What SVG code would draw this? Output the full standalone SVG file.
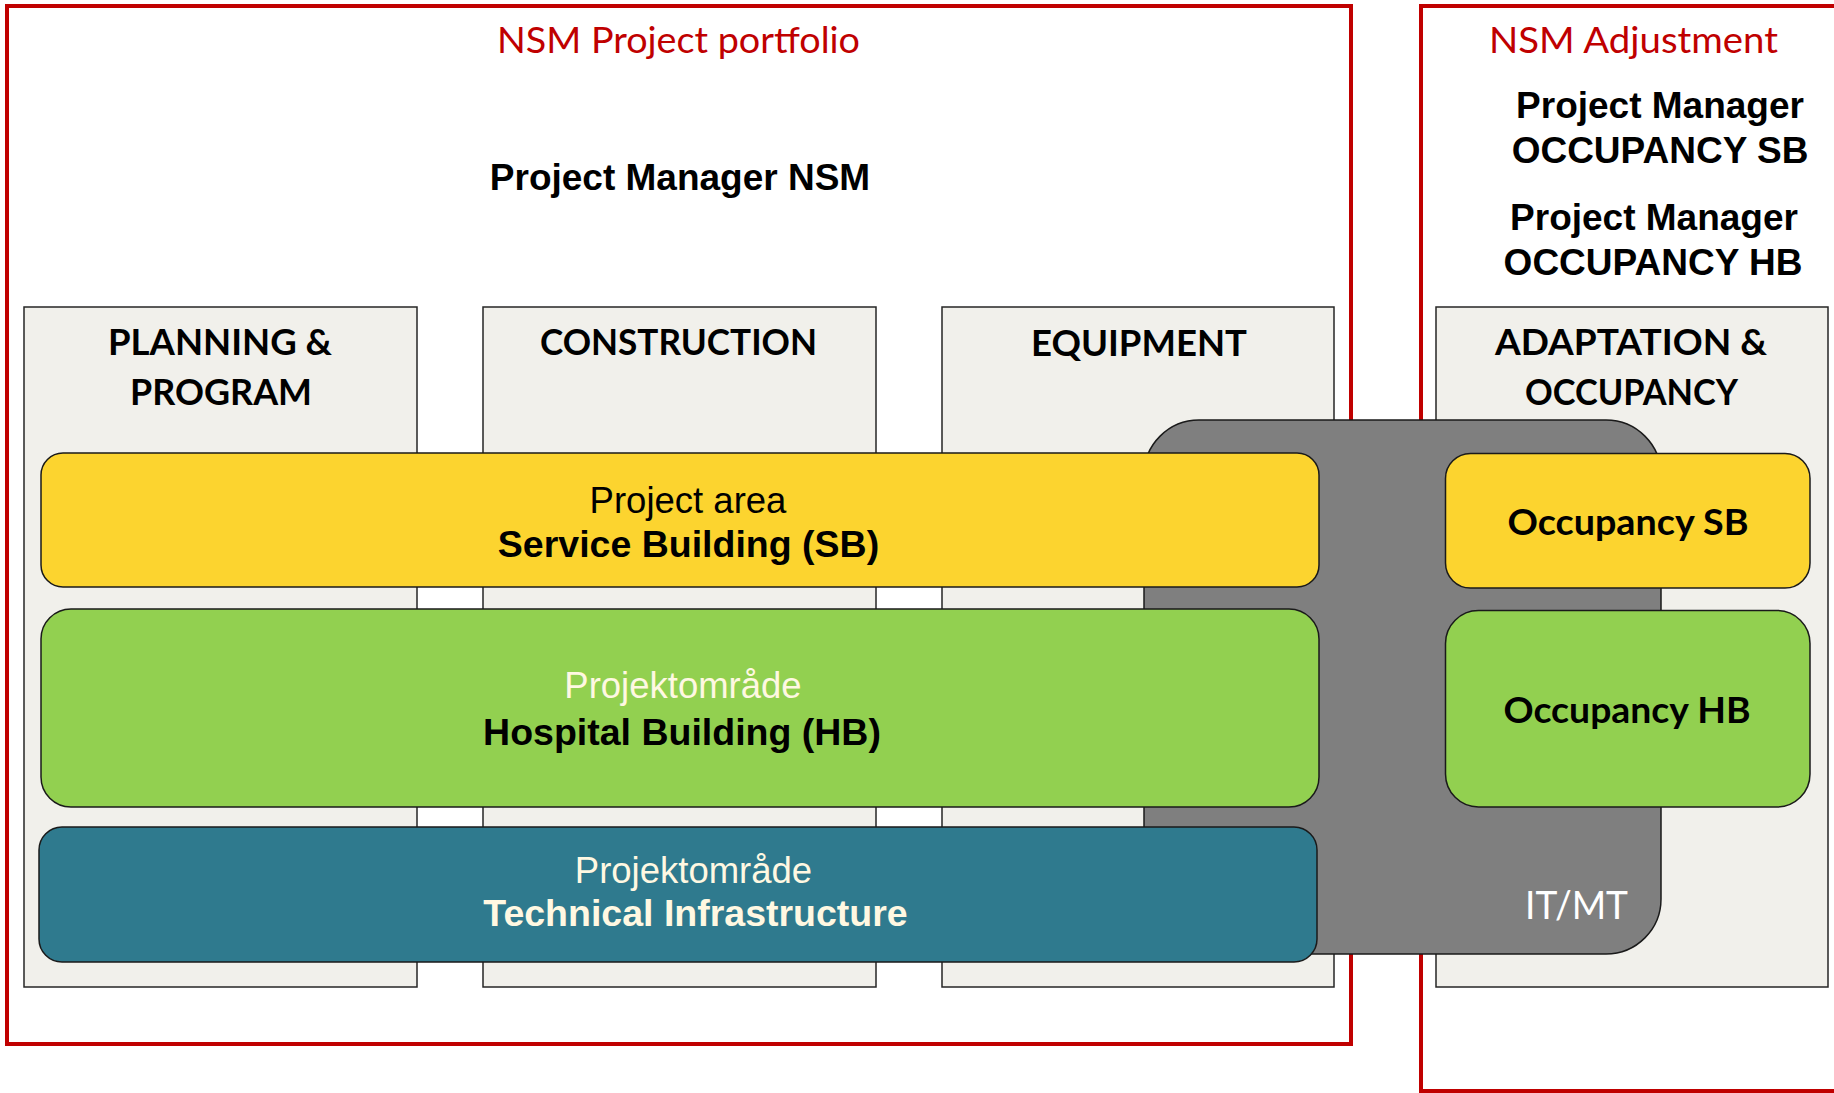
<svg xmlns="http://www.w3.org/2000/svg" width="1834" height="1093" viewBox="0 0 1834 1093">
  <style>
    .frame { fill: none; stroke: #C00000; stroke-width: 4; }
    .frame-title { font-family: Lato, "Open Sans", sans-serif; font-size: 36px; fill: #C00000; text-anchor: middle; }
    .pm { font-family: "Liberation Sans", Arial, sans-serif; font-weight: bold; font-size: 37px; fill: #000; text-anchor: middle; }
    .col { fill: #F1F0EB; stroke: #262626; stroke-width: 1.5; }
    .col-title { font-family: Lato, "Open Sans", sans-serif; font-weight: bold; font-size: 36px; fill: #000; text-anchor: middle; }
    .bar { stroke: #1a1a1a; stroke-width: 1.5; }
    .reg { font-family: "Liberation Sans", Arial, sans-serif; font-size: 36.5px; text-anchor: middle; }
    .bold { font-family: "Liberation Sans", Arial, sans-serif; font-weight: bold; font-size: 37.5px; text-anchor: middle; }
    .occ { font-family: Lato, "Open Sans", sans-serif; font-weight: bold; font-size: 37px; fill: #000; text-anchor: middle; }
    .cream { fill: #FFF8E2; }
    .black { fill: #000; }
  </style>

  <g id="frame-portfolio">
    <rect class="frame" x="7" y="6" width="1344" height="1038"/>
    <text class="frame-title" x="678.5" y="53" textLength="363" lengthAdjust="spacingAndGlyphs">NSM Project portfolio</text>
    <text class="pm" x="680" y="190">Project Manager NSM</text>
  </g>

  <g id="frame-adjustment">
    <rect class="frame" x="1421" y="6" width="500" height="1085"/>
    <text class="frame-title" x="1633.5" y="53" textLength="289" lengthAdjust="spacingAndGlyphs">NSM Adjustment</text>
    <text class="pm" x="1660" y="118">Project Manager</text>
    <text class="pm" x="1660" y="163">OCCUPANCY SB</text>
    <text class="pm" x="1654" y="230">Project Manager</text>
    <text class="pm" x="1653" y="275">OCCUPANCY HB</text>
  </g>

  <g id="col-planning">
    <rect class="col" x="24" y="307" width="393" height="680"/>
    <text class="col-title" x="220" y="355" textLength="224" lengthAdjust="spacingAndGlyphs">PLANNING &amp;</text>
    <text class="col-title" x="221" y="405" textLength="182" lengthAdjust="spacingAndGlyphs">PROGRAM</text>
  </g>
  <g id="col-construction">
    <rect class="col" x="483" y="307" width="393" height="680"/>
    <text class="col-title" x="678.5" y="355" textLength="277" lengthAdjust="spacingAndGlyphs">CONSTRUCTION</text>
  </g>
  <g id="col-equipment">
    <rect class="col" x="942" y="307" width="392" height="680"/>
    <text class="col-title" x="1139" y="356" textLength="216" lengthAdjust="spacingAndGlyphs">EQUIPMENT</text>
  </g>
  <g id="col-adaptation">
    <rect class="col" x="1436" y="307" width="392" height="680"/>
    <text class="col-title" x="1631" y="355" textLength="272" lengthAdjust="spacingAndGlyphs">ADAPTATION &amp;</text>
    <text class="col-title" x="1631.5" y="405" textLength="213" lengthAdjust="spacingAndGlyphs">OCCUPANCY</text>
  </g>

  <g id="it-mt">
    <rect class="bar" x="1144" y="420" width="517" height="534" rx="55" ry="55" fill="#7F7F7F"/>
    <text x="1576.5" y="918.5" font-family="Lato, 'Open Sans', sans-serif" font-size="38" fill="#FFFFFF" text-anchor="middle" textLength="103" lengthAdjust="spacingAndGlyphs">IT/MT</text>
  </g>

  <g id="area-sb">
    <rect class="bar" x="41" y="453" width="1278" height="134" rx="22" ry="22" fill="#FCD42F"/>
    <text class="reg black" x="688" y="513">Project area</text>
    <text class="bold black" x="688.5" y="557">Service Building (SB)</text>
  </g>
  <g id="area-hb">
    <rect class="bar" x="41" y="609" width="1278" height="198" rx="30" ry="30" fill="#92D050"/>
    <text class="reg cream" x="683" y="698">Projektområde</text>
    <text class="bold black" x="682" y="745">Hospital Building (HB)</text>
  </g>
  <g id="area-ti">
    <rect class="bar" x="39" y="827" width="1278" height="135" rx="23" ry="23" fill="#2F7A8E"/>
    <text class="reg cream" x="693.5" y="883">Projektområde</text>
    <text class="bold cream" x="695.5" y="926">Technical Infrastructure</text>
  </g>

  <g id="occupancy-sb">
    <rect class="bar" x="1445.5" y="453.5" width="364.5" height="134.5" rx="25" ry="25" fill="#FCD42F"/>
    <text class="occ" x="1628" y="534.5" textLength="241" lengthAdjust="spacingAndGlyphs">Occupancy SB</text>
  </g>
  <g id="occupancy-hb">
    <rect class="bar" x="1445.5" y="610.5" width="364.5" height="196.5" rx="33" ry="33" fill="#92D050"/>
    <text class="occ" x="1627" y="723" textLength="247" lengthAdjust="spacingAndGlyphs">Occupancy HB</text>
  </g>

  <g id="connectors"></g>
</svg>
